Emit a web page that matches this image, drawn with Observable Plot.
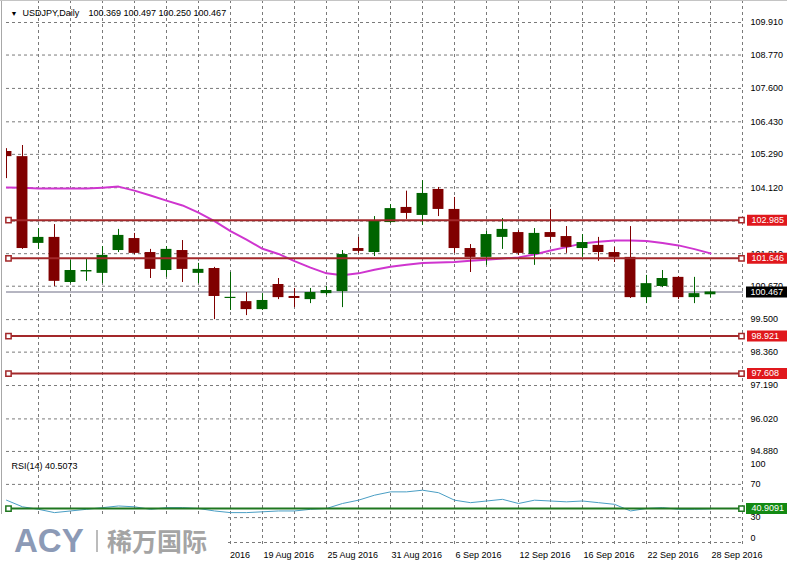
<!DOCTYPE html>
<html><head><meta charset="utf-8">
<script src="https://cdn.jsdelivr.net/npm/d3@7"></script>
<script src="https://cdn.jsdelivr.net/npm/@observablehq/plot@0.6"></script>
<style>
body{margin:0;background:#fff;}
#wrap{position:relative;width:787px;height:566px;overflow:hidden;background:#fff;font-family:"Liberation Sans",Arial,sans-serif;}
#main{position:absolute;left:0;top:0;}
#rsi{position:absolute;left:0;top:457px;}
#lborder{position:absolute;left:1px;top:0;width:1px;height:514px;background:#a8a8a8;}
#tborder{position:absolute;left:0;top:0;width:787px;height:1px;background:#c4c4c4;}
.wm{position:absolute;left:0;top:514px;width:228px;height:52px;background:#fff;}
.acy{position:absolute;left:14px;top:10px;font:bold 33px/33px "Liberation Sans",Arial,sans-serif;color:#8c9ab6;letter-spacing:0px;}
.sep{position:absolute;left:96px;top:16px;width:2px;height:22px;background:#bcbcbc;}
.cn{position:absolute;left:107px;top:13px;font:bold 25px/26px "Noto Sans CJK SC",sans-serif;color:#a4a4a4;}
</style></head>
<body>
<div id="wrap">
  <div id="main"></div>
  <div id="rsi"></div>
  <div id="lborder"></div>
  <div id="tborder"></div>
  <div class="wm"><span class="acy">ACY</span><span class="sep"></span><span class="cn">稀万国际</span></div>
</div>
<script>
// ---- data (USDJPY daily, one entry per trading day) ----
const open  = [105.39,105.21,102.17,102.38,100.80,101.17,101.12,101.92,102.34,101.85,101.22,101.92,101.12,101.29,100.24,100.13,99.85,100.73,100.31,100.20,100.41,100.48,101.99,101.85,102.90,103.43,103.15,104.06,103.36,101.99,101.68,102.38,102.55,101.78,102.55,102.41,101.99,102.10,101.85,101.68,100.27,100.66,100.98,100.27,100.369];
const high  = [105.49,105.60,102.69,102.83,101.57,101.64,102.06,102.66,102.52,101.96,102.06,102.27,101.47,101.33,101.15,100.45,100.41,100.94,100.59,100.59,100.66,101.92,102.38,103.11,103.53,104.00,104.37,104.13,103.78,102.13,102.59,103.04,102.62,102.69,103.36,102.76,102.48,102.38,102.03,102.76,101.05,101.22,101.01,100.98,100.497];
const low   = [104.44,101.96,101.96,100.66,100.76,100.84,100.76,101.85,101.78,100.94,100.98,100.80,100.76,99.50,99.82,99.64,99.82,100.20,99.92,100.06,100.34,99.92,101.82,101.71,102.87,103.01,102.80,103.11,101.82,101.15,101.40,101.96,101.75,101.40,102.20,101.82,101.68,101.54,101.50,100.24,100.06,100.62,100.20,100.06,100.250];
const close = [105.21,101.99,102.38,100.84,101.22,101.22,101.75,102.45,101.82,101.26,101.96,101.26,101.26,100.31,100.28,99.85,100.17,100.27,100.24,100.45,100.52,101.78,101.89,102.94,103.39,103.22,103.92,103.36,101.99,101.68,102.48,102.66,101.82,102.52,102.38,102.03,102.20,101.85,101.68,100.27,100.76,100.94,100.27,100.41,100.467];
const ma    = [104.13,104.12,104.09,104.09,104.09,104.09,104.12,104.16,104.02,103.85,103.67,103.50,103.25,102.95,102.60,102.30,101.98,101.80,101.55,101.32,101.12,101.05,101.12,101.25,101.35,101.42,101.48,101.50,101.52,101.56,101.60,101.64,101.68,101.78,101.92,102.04,102.17,102.23,102.27,102.27,102.25,102.18,102.10,101.97,101.82];
const rsi   = [51,43,40,36,38,40,42,44,43,40,42,42,41,38,36,36,37,38,38,40,41,47,51,57,61,61,63,60,51,48,50,52,47,51,50,49,50,48,46,38,41,42,40,40,40.5];
const priceTicks = [109.910,108.770,107.600,106.430,105.290,104.120,102.950,101.810,100.670,99.500,98.360,97.190,96.020,94.880];
const levels = [102.985,101.646,98.921,97.608];
const bid = 100.467;
const rsiTicks = [0,30,70,100];
const rsiGridLevels = [0,30,70];
const rsiLevel = 40.9091;
const dateTickIdx = [12,16,20,24,28,32,36,40,44];
const dateLabels = ["15 Aug 2016","19 Aug 2016","25 Aug 2016","31 Aug 2016","6 Sep 2016","12 Sep 2016","16 Sep 2016","22 Sep 2016","28 Sep 2016"];
const symbolLabel = "USDJPY,Daily";
const ohlcLabel = "100.369 100.497 100.250 100.467";
const rsiLabel = "RSI(14) 40.5073";

// ---- layout ----
const N = open.length;
const idx = d3.range(N);
const candles = idx.map(i => ({i, o: open[i], h: high[i], l: low[i], c: close[i]}));
const XMAX = 46.0625, PX = 16;
const gridX = d3.range(2, 47, 2);
const BULL = "#006400", BEAR = "#800000";
const col = d => d.c >= d.o ? BULL : BEAR;
const grid = {stroke: "#7a7a7a", strokeDasharray: "3,3", strokeWidth: 1};
const font = {fontFamily: "'Liberation Sans', Arial, sans-serif", fontSize: "9px", background: "transparent", overflow: "visible", color: "#000"};
const LEVEL = "#a3282a", LEVELBOX = "#e0181d";
const markerPts = vals => vals.flatMap(v => [{v, x: 2/PX}, {v, x: XMAX - 2/PX}]);

const main = Plot.plot({
  width: 787, height: 457,
  marginLeft: 6, marginRight: 44, marginTop: 0, marginBottom: 0,
  style: font,
  x: {type: "linear", domain: [0, XMAX], axis: null},
  y: {type: "linear", domain: [94.668, 110.681], axis: null},
  marks: [
    Plot.ruleY(priceTicks, grid),
    Plot.ruleX(gridX, grid),
    Plot.text(priceTicks, {y: d => d, frameAnchor: "right", dx: 7, textAnchor: "start", lineAnchor: "middle", text: d => d.toFixed(3), fill: "#000"}),
    Plot.ruleY([bid], {stroke: "#6c6c84", strokeWidth: 1}),
    Plot.line(idx, {x: i => i, y: i => ma[i], stroke: "#cf35cf", strokeWidth: 2, clip: true}),
    Plot.ruleX(candles, {x: "i", y1: "l", y2: "h", stroke: col, strokeWidth: 1, clip: true}),
    Plot.rect(candles, {x1: d => d.i - 0.34, x2: d => d.i + 0.34, y1: d => Math.min(d.o, d.c), y2: d => Math.max(d.o, d.c), fill: col, clip: true}),
    Plot.ruleY(levels, {stroke: LEVEL, strokeWidth: 2}),
    Plot.dot(markerPts(levels), {x: "x", y: "v", symbol: "square", r: 3, fill: "white", stroke: LEVEL, strokeWidth: 1.5}),
    Plot.ruleY(levels, {y: d => d, x1: () => XMAX + 4/PX, x2: () => XMAX + 44/PX, stroke: LEVELBOX, strokeWidth: 11}),
    Plot.text(levels, {y: d => d, frameAnchor: "right", dx: 8, textAnchor: "start", lineAnchor: "middle", text: d => d.toFixed(3), fill: "white"}),
    Plot.ruleY([bid], {y: d => d, x1: () => XMAX + 3/PX, x2: () => XMAX + 44/PX, stroke: "#000", strokeWidth: 11}),
    Plot.text([bid], {y: d => d, frameAnchor: "right", dx: 7, textAnchor: "start", lineAnchor: "middle", text: d => d.toFixed(3), fill: "white"}),
    Plot.text(["▼"], {frameAnchor: "top-left", dx: 4, dy: 13, textAnchor: "start", lineAnchor: "middle", fontSize: 7, fill: "#000"}),
    Plot.text([symbolLabel], {frameAnchor: "top-left", dx: 16, dy: 13, textAnchor: "start", lineAnchor: "middle", fill: "#000"}),
    Plot.text([ohlcLabel], {frameAnchor: "top-left", dx: 82, dy: 13, textAnchor: "start", lineAnchor: "middle", fill: "#000"})
  ]
});
document.getElementById("main").appendChild(main);

const rsiPlot = Plot.plot({
  width: 787, height: 109,
  marginLeft: 6, marginRight: 44, marginTop: 0, marginBottom: 21,
  style: font,
  x: {type: "linear", domain: [0, XMAX], axis: null},
  y: {type: "linear", domain: [-3.61, 102.41], axis: null},
  marks: [
    Plot.ruleY(rsiGridLevels, grid),
    Plot.ruleX(gridX, grid),
    Plot.text(rsiTicks.filter(v => v > 0 && v < 100), {y: d => d, frameAnchor: "right", dx: 7, textAnchor: "start", lineAnchor: "middle", text: d => String(d), fill: "#000"}),
    Plot.text(rsiTicks.filter(v => v === 100), {y: d => d, frameAnchor: "right", dx: 7, dy: 5, textAnchor: "start", lineAnchor: "middle", text: d => String(d), fill: "#000"}),
    Plot.text(rsiTicks.filter(v => v === 0), {y: d => d, frameAnchor: "right", dx: 7, dy: -4, textAnchor: "start", lineAnchor: "middle", text: d => String(d), fill: "#000"}),
    Plot.line(idx, {x: i => i, y: i => rsi[i], stroke: "#4a9ec4", strokeWidth: 1, clip: true}),
    Plot.ruleY([rsiLevel], {stroke: "#1f771f", strokeWidth: 2}),
    Plot.dot(markerPts([rsiLevel]), {x: "x", y: "v", symbol: "square", r: 3, fill: "white", stroke: "#1f771f", strokeWidth: 1.5}),
    Plot.ruleY([rsiLevel], {y: d => d, x1: () => XMAX + 3/PX, x2: () => XMAX + 44/PX, stroke: "#138a13", strokeWidth: 11}),
    Plot.text([rsiLevel], {y: d => d, frameAnchor: "right", dx: 8, textAnchor: "start", lineAnchor: "middle", text: d => d.toFixed(4), fill: "white"}),
    Plot.text([rsiLabel], {frameAnchor: "top-left", dx: 5, dy: 9, textAnchor: "start", lineAnchor: "middle", fill: "#000"}),
    Plot.text(dateTickIdx, {x: d => d, frameAnchor: "bottom", dy: 10, dx: 1, textAnchor: "start", lineAnchor: "middle", text: (d, i) => dateLabels[i], fill: "#000"})
  ]
});
document.getElementById("rsi").appendChild(rsiPlot);
</script>
</body></html>
